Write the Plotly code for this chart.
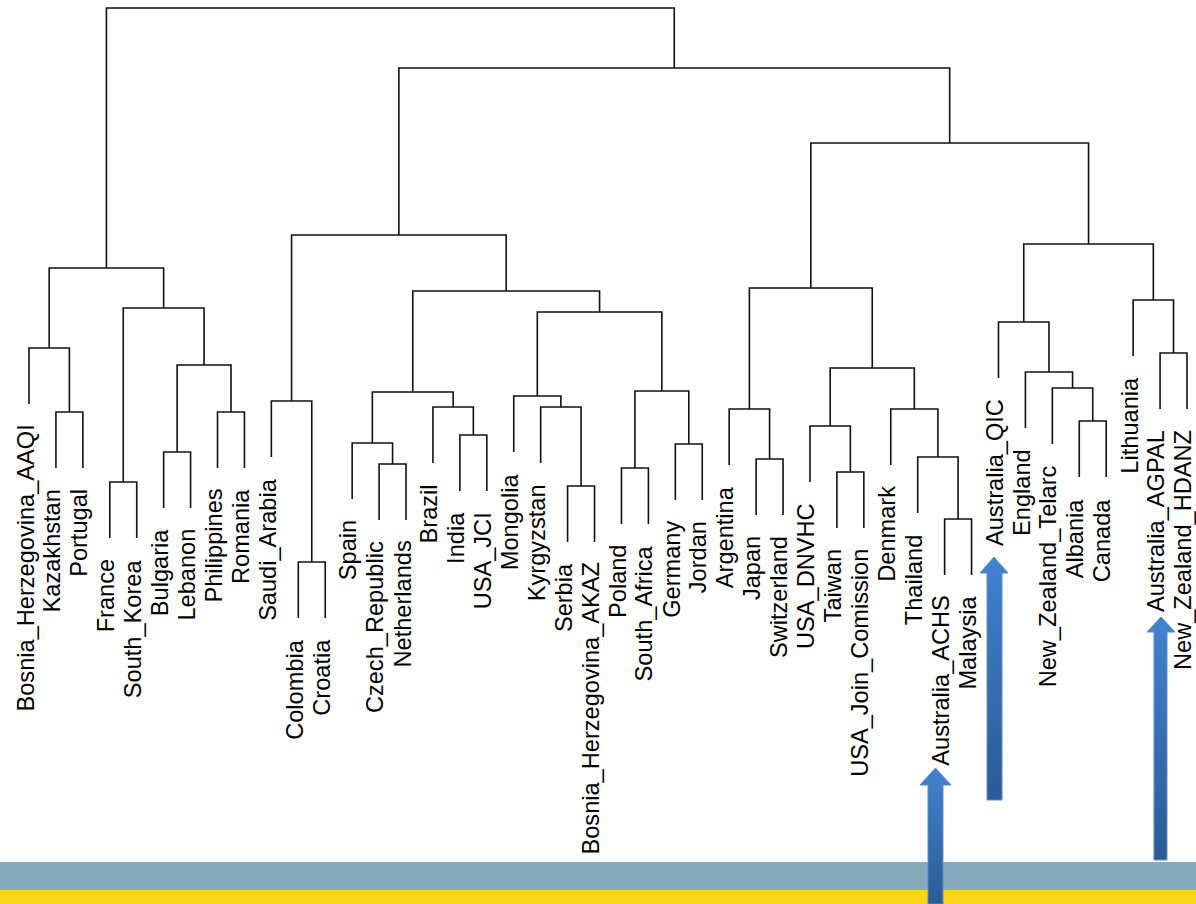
import plotly.graph_objects as go

# ---------------- data ----------------
labels = [
    "Bosnia_Herzegovina_AAQI", "Kazakhstan", "Portugal", "France", "South_Korea",
    "Bulgaria", "Lebanon", "Philippines", "Romania", "Saudi_Arabia", "Colombia",
    "Croatia", "Spain", "Czech_Republic", "Netherlands", "Brazil", "India", "USA_JCI",
    "Mongolia", "Kyrgyzstan", "Serbia", "Bosnia_Herzegovina_AKAZ", "Poland",
    "South_Africa", "Germany", "Jordan", "Argentina", "Japan", "Switzerland",
    "USA_DNVHC", "Taiwan", "USA_Join_Comission", "Denmark", "Thailand",
    "Australia_ACHS", "Malaysia", "Australia_QIC", "England", "New_Zealand_Telarc",
    "Albania", "Canada", "Lithuania", "Australia_AGPAL", "New_Zealand_HDANZ",
]

# merges: (left, right, height); ints refer to earlier merges, strings to leaves
merges = [
    ("Kazakhstan", "Portugal", 2.28),                 # 0
    ("Bosnia_Herzegovina_AAQI", 0, 2.92),             # 1
    ("France", "South_Korea", 1.58),                  # 2
    ("Bulgaria", "Lebanon", 1.88),                    # 3
    ("Philippines", "Romania", 2.28),                 # 4
    (3, 4, 2.75),                                     # 5
    (2, 5, 3.32),                                     # 6
    (1, 6, 3.72),                                     # 7
    ("Colombia", "Croatia", 0.78),                    # 8
    ("Saudi_Arabia", 8, 2.39),                        # 9
    ("Czech_Republic", "Netherlands", 1.76),          # 10
    ("Spain", 10, 1.97),                              # 11
    ("India", "USA_JCI", 2.05),                       # 12
    ("Brazil", 12, 2.33),                             # 13
    (11, 13, 2.48),                                   # 14
    ("Serbia", "Bosnia_Herzegovina_AKAZ", 1.54),      # 15
    ("Kyrgyzstan", 15, 2.33),                         # 16
    ("Mongolia", 16, 2.44),                           # 17
    ("Poland", "South_Africa", 1.72),                 # 18
    ("Germany", "Jordan", 1.96),                      # 19
    (18, 19, 2.49),                                   # 20
    (17, 20, 3.28),                                   # 21
    (14, 21, 3.49),                                   # 22
    (9, 22, 4.05),                                    # 23
    ("Japan", "Switzerland", 1.81),                   # 24
    ("Argentina", 24, 2.31),                          # 25
    ("Taiwan", "USA_Join_Comission", 1.68),           # 26
    ("USA_DNVHC", 26, 2.14),                          # 27
    ("Australia_ACHS", "Malaysia", 1.21),             # 28
    ("Thailand", 28, 1.83),                           # 29
    ("Denmark", 29, 2.31),                            # 30
    (27, 30, 2.72),                                   # 31
    (25, 31, 3.52),                                   # 32
    ("Albania", "Canada", 2.19),                      # 33
    ("New_Zealand_Telarc", 33, 2.52),                 # 34
    ("England", 34, 2.68),                            # 35
    ("Australia_QIC", 35, 3.18),                      # 36
    ("Australia_AGPAL", "New_Zealand_HDANZ", 2.87),   # 37
    ("Lithuania", 37, 3.40),                          # 38
    (36, 38, 3.96),                                   # 39
    (32, 39, 4.97),                                   # 40
    (23, 40, 5.72),                                   # 41
    (7, 41, 6.32),                                    # 42
]

HANG = 0.56        # leaf stem length below its parent merge
LABEL_GAP = 0.19   # gap between stem end and label anchor

# decoration geometry (page pixels): arrows and bands
arrows = [  # (shaft_left, shaft_right, head_left, head_right, tip_y, head_base_y, bottom_y)
    (928, 943, 920, 951, 768, 785, 904),
    (987, 1002, 980, 1008, 557, 573, 800),
    (1154, 1167, 1147, 1175, 617, 632, 860),
]
bands = [  # (top_y, bottom_y, colour)
    (862, 890, "#88aabd"),
    (890, 904, "#f9d419"),
]

W, H = 1196, 904

# ---------------- dendrogram geometry ----------------
leaf_x = {name: i for i, name in enumerate(labels)}
node_x, node_h = [], []
leaf_end = {}
xs, ys = [], []


def child(ref, parent_h):
    if isinstance(ref, int):
        return node_x[ref], node_h[ref]
    end = parent_h - HANG
    leaf_end[ref] = end
    return leaf_x[ref], end


for a, b, h in merges:
    xa, ya = child(a, h)
    xb, yb = child(b, h)
    xs += [xa, xa, xb, xb, None]
    ys += [ya, h, h, yb, None]
    node_x.append((xa + xb) / 2)
    node_h.append(h)

fig = go.Figure()
fig.add_trace(go.Scatter(
    x=xs, y=ys, mode="lines",
    line=dict(color="#111111", width=1.6),
    hoverinfo="skip", showlegend=False,
))

# labels
for name in labels:
    fig.add_annotation(
        x=leaf_x[name], y=leaf_end[name] - LABEL_GAP,
        text=name, textangle=-90, showarrow=False,
        xanchor="center", yanchor="top", xshift=-4,
        font=dict(family="Liberation Sans, Arial, sans-serif", size=23.6, color="black"),
    )

# arrows on a pixel overlay axis
for sl, sr, hl, hr, tip, hb, bot in arrows:
    cx = (hl + hr) / 2
    px = [sl, sl, hl, cx, hr, sr, sr, sl]
    py = [bot, hb, hb, tip, hb, hb, bot, bot]
    fig.add_trace(go.Scatter(
        x=px, y=[H - v for v in py], xaxis="x2", yaxis="y2",
        mode="lines", fill="toself",
        line=dict(color="#5b8fd0", width=1),
        fillgradient=dict(type="vertical",
                          colorscale=[[0, "#2c5a95"], [1, "#4282cf"]]),
        hoverinfo="skip", showlegend=False,
    ))

# bands
for top, bottom, col in bands:
    fig.add_shape(type="rect", xref="paper", yref="paper",
                  x0=0, x1=1, y0=1 - bottom / H, y1=1 - top / H,
                  fillcolor=col, line=dict(width=0), layer="below")

x0 = 29.0
step = (1187.0 - 29.0) / (len(labels) - 1)
fig.update_layout(
    width=W, height=H,
    margin=dict(l=0, r=0, t=0, b=0),
    paper_bgcolor="white", plot_bgcolor="rgba(0,0,0,0)",
    xaxis=dict(range=[-x0 / step, (W - x0) / step], visible=False, fixedrange=True),
    yaxis=dict(range=[(640 - H) / 100.0, 6.40], visible=False, fixedrange=True),
    xaxis2=dict(range=[0, W], overlaying="x", visible=False, fixedrange=True),
    yaxis2=dict(range=[0, H], overlaying="y", visible=False, fixedrange=True),
    showlegend=False,
)

fig.write_html("out.html", config={"displayModeBar": False},
               post_script="document.body.style.margin='0';")
